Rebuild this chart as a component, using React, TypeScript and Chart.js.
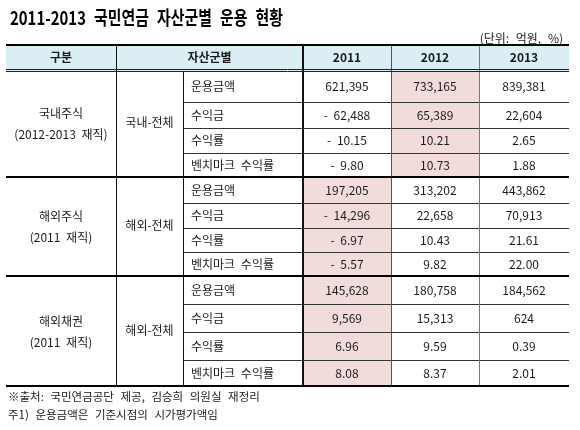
import { useEffect, useRef } from 'react';
import { Chart, registerables } from 'chart.js';

Chart.register(...registerables);

// ---------- data ----------
const titleText = '2011-2013 국민연금 자산군별 운용 현황';
const unitLabel = '(단위: 억원, %)';
const headerLabels = ['구분', '자산군별'];
const years = ['2011', '2012', '2013'];
const groups = ['국내주식', '해외주식', '해외채권'];
const groupNotes = ['(2012-2013 재직)', '(2011 재직)', '(2011 재직)'];
const subGroups = ['국내-전체', '해외-전체', '해외-전체'];
const metrics = ['운용금액', '수익금', '수익률', '벤치마크 수익률'];

const dom2011 = [621395, -62488, -10.15, -9.8];
const dom2012 = [733165, 65389, 10.21, 10.73];
const dom2013 = [839381, 22604, 2.65, 1.88];
const fstk2011 = [197205, -14296, -6.97, -5.57];
const fstk2012 = [313202, 22658, 10.43, 9.82];
const fstk2013 = [443862, 70913, 21.61, 22.0];
const fbond2011 = [145628, 9569, 6.96, 8.08];
const fbond2012 = [180758, 15313, 9.59, 8.37];
const fbond2013 = [184562, 624, 0.39, 2.01];

const highlightYears = ['2012', '2011', '2011'];
const footnotes = [
  '※출처: 국민연금공단 제공, 김승희 의원실 재정리',
  '주1) 운용금액은 기준시점의 시가평가액임',
];

const groupValues = [
  [dom2011, dom2012, dom2013],
  [fstk2011, fstk2012, fstk2013],
  [fbond2011, fbond2012, fbond2013],
];

// ---------- layout (scale units) ----------
const COL_EDGES = [0, 110, 177, 297, 385, 473, 563];
const ROW_EDGES = [0, 25, 56, 82, 107, 132, 157, 182, 206, 231, 258, 286, 314, 341];

const FONT = '"Noto Sans CJK KR", "Noto Sans", sans-serif';
const TEXT = '#1b1b1b';
const HEADER_BG = '#DAEEF3';
const PINK = '#F2DCDB';

function fmt(v: number, metricIdx: number): string {
  const abs = Math.abs(v);
  const s = metricIdx < 2 ? abs.toLocaleString('en-US') : abs.toFixed(2);
  return v < 0 ? '- ' + s : s;
}

const tablePlugin = {
  id: 'tablePlugin',
  afterDraw(chart: any) {
    const { ctx } = chart;
    const x = chart.scales.x;
    const y = chart.scales.y;
    const X = (i: number) => Math.round(x.getPixelForValue(COL_EDGES[i]));
    const Y = (i: number) => Math.round(y.getPixelForValue(ROW_EDGES[i]));
    const cx = (a: number, b: number) => (X(a) + X(b)) / 2;
    const cy = (a: number, b: number) => (Y(a) + Y(b)) / 2;
    const spacing = (px: number) => {
      try {
        (ctx as any).wordSpacing = px + 'px';
      } catch (e) {
        /* ignore */
      }
    };

    ctx.save();

    // fills
    ctx.fillStyle = HEADER_BG;
    ctx.fillRect(X(0), Y(0), X(6) - X(0), Y(1) - Y(0));
    groups.forEach((_, gi) => {
      const ci = 3 + years.indexOf(highlightYears[gi]);
      const r0 = 1 + gi * 4;
      ctx.fillStyle = PINK;
      ctx.fillRect(X(ci), Y(r0), X(ci + 1) - X(ci), Y(r0 + 4) - Y(r0));
    });

    const hline = (yy: number, x0: number, x1: number, w: number, color: string) => {
      ctx.beginPath();
      ctx.strokeStyle = color;
      ctx.lineWidth = w;
      const off = w % 2 === 1 ? 0.5 : 0;
      ctx.moveTo(x0, yy + off);
      ctx.lineTo(x1, yy + off);
      ctx.stroke();
    };
    const vline = (xx: number, y0: number, y1: number, w: number, color: string) => {
      ctx.beginPath();
      ctx.strokeStyle = color;
      ctx.lineWidth = w;
      const off = w % 2 === 1 ? 0.5 : 0;
      ctx.moveTo(xx + off, y0);
      ctx.lineTo(xx + off, y1);
      ctx.stroke();
    };

    // inner row lines
    groups.forEach((_, gi) => {
      const r0 = 1 + gi * 4;
      for (let k = 1; k < 4; k++) hline(Y(r0 + k), X(2), X(6), 1, '#333');
    });
    // verticals
    vline(X(1), Y(0), Y(13), 1, '#111');
    vline(X(2), Y(1), Y(13), 1, '#111');
    vline(X(3), Y(0), Y(13), 2, '#111');
    vline(X(4), Y(0), Y(13), 1, '#555');
    vline(X(5), Y(0), Y(13), 1, '#777');
    // header double line
    hline(Y(1) - 2, X(0), X(6), 1, '#222');
    hline(Y(1), X(0), X(6), 1, '#222');
    // header top / group separators / bottom
    hline(Y(0) - 1, X(0), X(6), 2, '#000');
    hline(Y(5) - 1, X(0), X(6), 2, '#000');
    hline(Y(9) - 1, X(0), X(6), 2, '#000');
    hline(Y(13) - 1, X(0), X(6), 2, '#000');

    // header text
    ctx.fillStyle = TEXT;
    ctx.textBaseline = 'middle';
    ctx.textAlign = 'center';
    ctx.font = `bold 12px ${FONT}`;
    const hy = cy(0, 1) - 1;
    ctx.fillText(headerLabels[0], cx(0, 1), hy);
    ctx.fillText(headerLabels[1], cx(1, 3), hy);
    years.forEach((yr, i) => ctx.fillText(yr, cx(3 + i, 4 + i), hy));

    // body
    ctx.font = `12px ${FONT}`;
    spacing(3);
    groups.forEach((g, gi) => {
      const r0 = 1 + gi * 4;
      const gcy = cy(r0, r0 + 4);
      ctx.textAlign = 'center';
      ctx.fillText(g, cx(0, 1), gcy - 11);
      ctx.fillText(groupNotes[gi], cx(0, 1), gcy + 10);
      ctx.fillText(subGroups[gi], cx(1, 2), gcy - 2);
      metrics.forEach((m, mi) => {
        const ry = cy(r0 + mi, r0 + mi + 1);
        ctx.textAlign = 'left';
        ctx.fillText(m, X(2) + 8, ry);
        ctx.textAlign = 'center';
        groupValues[gi].forEach((arr, yi) => {
          ctx.fillText(fmt(arr[mi], mi), cx(3 + yi, 4 + yi), ry);
        });
      });
    });

    // title
    ctx.textAlign = 'left';
    ctx.textBaseline = 'middle';
    ctx.fillStyle = '#000';
    ctx.font = `bold 19px ${FONT}`;
    spacing(6);
    ctx.fillText(titleText, 10, 18, 273);

    // unit
    ctx.textAlign = 'right';
    ctx.fillStyle = TEXT;
    ctx.font = `12px ${FONT}`;
    spacing(4);
    ctx.fillText(unitLabel, X(6) - 6, 38);

    // footnotes
    ctx.textAlign = 'left';
    ctx.font = `11.5px ${FONT}`;
    spacing(4);
    footnotes.forEach((f, i) => ctx.fillText(f, 8, Y(13) + 10 + i * 18));
    spacing(0);

    ctx.restore();
  },
};

export default function App() {
  const ref = useRef<HTMLCanvasElement | null>(null);
  useEffect(() => {
    if (!ref.current) return;
    const chart = new Chart(ref.current, {
      type: 'scatter',
      data: { datasets: [] },
      options: {
        animation: false,
        responsive: false,
        devicePixelRatio: 1,
        layout: { padding: { left: 6, right: 11, top: 46, bottom: 43 } },
        scales: {
          x: { type: 'linear', min: 0, max: COL_EDGES[COL_EDGES.length - 1], display: false },
          y: { type: 'linear', min: 0, max: ROW_EDGES[ROW_EDGES.length - 1], reverse: true, display: false },
        },
        plugins: { legend: { display: false }, tooltip: { enabled: false }, title: { display: false } },
      },
      plugins: [tablePlugin],
    } as any);
    return () => chart.destroy();
  }, []);
  return (
    <div style={{ position: 'fixed', left: 0, top: 0, width: 580, height: 430, background: '#fff' }}>
      <canvas ref={ref} width={580} height={430} style={{ width: 580, height: 430, display: 'block' }} />
    </div>
  );
}
